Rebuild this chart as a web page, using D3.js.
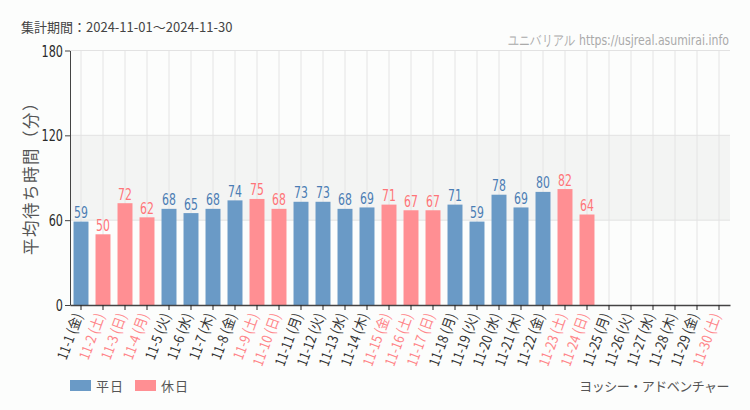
<!DOCTYPE html>
<html><head><meta charset="utf-8">
<script src="https://cdn.jsdelivr.net/npm/d3@7"></script>
<style>
body{margin:0;background:#fcfdfc;}
svg{display:block;}
</style></head>
<body><svg id="c" width="750" height="410"></svg>
<script>
const dates = ["11-1","11-2","11-3","11-4","11-5","11-6","11-7","11-8","11-9","11-10","11-11","11-12","11-13","11-14","11-15","11-16","11-17","11-18","11-19","11-20","11-21","11-22","11-23","11-24","11-25","11-26","11-27","11-28","11-29","11-30"];
const weekdays = ["金","土","日","月","火","水","木","金","土","日","月","火","水","木","金","土","日","月","火","水","木","金","土","日","月","火","水","木","金","土"];
const holiday = [0,1,1,1,0,0,0,0,1,1,0,0,0,0,1,1,1,0,0,0,0,0,1,1,0,0,0,0,0,1];
const values = [59,50,72,62,68,65,68,74,75,68,73,73,68,69,71,67,67,71,59,78,69,80,82,64,null,null,null,null,null,null];
const yTicks = [0,60,120,180];

const svg = d3.select("#c");
const m = {l:70, r:730, t:50.5, b:305};
const x = d3.scaleBand().domain(dates).range([m.l, m.r]).paddingInner(0.32).paddingOuter(0.16);
const y = d3.scaleLinear().domain([0,180]).range([m.b, m.t]);
const cond = "'DejaVu Sans',sans-serif";
const jp = "'Noto Sans CJK JP',sans-serif";
const blue = "#6a9ac6", pink = "#ff8f93", blueT = "#4b7db4", pinkT = "#ff7478";

// band
svg.append("rect").attr("x", m.l).attr("width", m.r-m.l).attr("y", y(120)).attr("height", y(60)-y(120)).attr("fill","#f3f4f3");
const xc = d => x(d) + x.bandwidth()/2;
svg.append("g").selectAll("line").data(dates).join("line")
  .attr("x1", xc).attr("x2", xc).attr("y1", m.t).attr("y2", m.b)
  .attr("stroke","#e4e4e4").attr("stroke-width",1);
svg.append("g").selectAll("line").data(yTicks.slice(1)).join("line")
  .attr("x1", m.l).attr("x2", m.r).attr("y1", d=>y(d)).attr("y2", d=>y(d))
  .attr("stroke","#e2e2e2").attr("stroke-width",1);

// bars
const data = dates.map((d,i)=>({d, v:values[i], h:holiday[i]})).filter(o=>o.v!=null);
svg.append("g").selectAll("rect").data(data).join("rect")
  .attr("x", o=>x(o.d)).attr("width", x.bandwidth())
  .attr("y", o=>y(o.v)).attr("height", o=>y(0)-y(o.v))
  .attr("fill", o=>o.h?pink:blue);
svg.append("g").selectAll("text").data(data).join("text")
  .attr("transform", o=>`translate(${xc(o.d)},${y(o.v)-3.5}) scale(0.66,1)`)
  .attr("text-anchor","middle").attr("font-family",cond).attr("font-size",16.5)
  .attr("fill", o=>o.h?pinkT:blueT).text(o=>o.v);

// y axis
const ya = svg.append("g").attr("transform",`translate(${m.l},0)`)
  .call(d3.axisLeft(y).tickValues(yTicks).tickSize(5).tickSizeOuter(0));
ya.select(".domain").attr("stroke","#444");
ya.selectAll(".tick line").attr("stroke","#444");
ya.selectAll("text").attr("font-family",cond).attr("font-size",15).attr("fill","#2a2a2a")
  .attr("x",null).attr("dy",null).attr("text-anchor","end")
  .attr("transform","translate(-7,5.5) scale(0.75,1)");

// x axis
const xa = svg.append("g").attr("transform",`translate(0,${m.b})`)
  .call(d3.axisBottom(x).tickSize(5).tickSizeOuter(0).tickFormat((d,i)=>`${d} (${weekdays[i]})`));
xa.select(".domain").attr("stroke","#444").attr("stroke-width",1.5);
xa.selectAll(".tick line").attr("stroke","#222");
xa.selectAll("text")
  .attr("font-family",jp).attr("font-size",14)
  .attr("fill",(d,i)=>holiday[i]?"#ff8589":"#333")
  .attr("text-anchor","end").attr("dy","0.35em")
  .attr("transform","translate(-1,4) rotate(-70) scale(0.88,1)")
  .attr("x",-6).attr("y",0);

// y title
svg.append("text").attr("transform","translate(37,174) rotate(-90)")
  .attr("text-anchor","middle").attr("font-family",jp)
  .attr("font-size",16.5).attr("letter-spacing",1.5).attr("fill","#555").text("平均待ち時間（分）");

// header
svg.append("text").attr("x",21).attr("y",32).attr("font-family",jp)
  .attr("font-size",13).attr("fill","#444").text("集計期間：2024-11-01〜2024-11-30");
svg.append("text").attr("transform","translate(729,45) scale(0.78,1)").attr("text-anchor","end").attr("font-family",cond)
  .attr("font-size",14).attr("fill","#aaa").text("ユニバリアル  https://usjreal.asumirai.info");

// legend
const leg = [{t:"平日",c:blue,x:70},{t:"休日",c:pink,x:135}];
const lg = svg.append("g");
lg.selectAll("rect").data(leg).join("rect").attr("x",d=>d.x).attr("y",380).attr("width",21).attr("height",11).attr("fill",d=>d.c);
lg.selectAll("text").data(leg).join("text").attr("x",d=>d.x+26).attr("y",391)
  .attr("font-family",jp).attr("font-size",13).attr("letter-spacing",1).attr("fill","#555").text(d=>d.t);
svg.append("text").attr("x",729).attr("y",391).attr("text-anchor","end")
  .attr("font-family",jp).attr("font-size",13).attr("letter-spacing",-0.5).attr("fill","#555").text("ヨッシー・アドベンチャー");
</script></body></html>
